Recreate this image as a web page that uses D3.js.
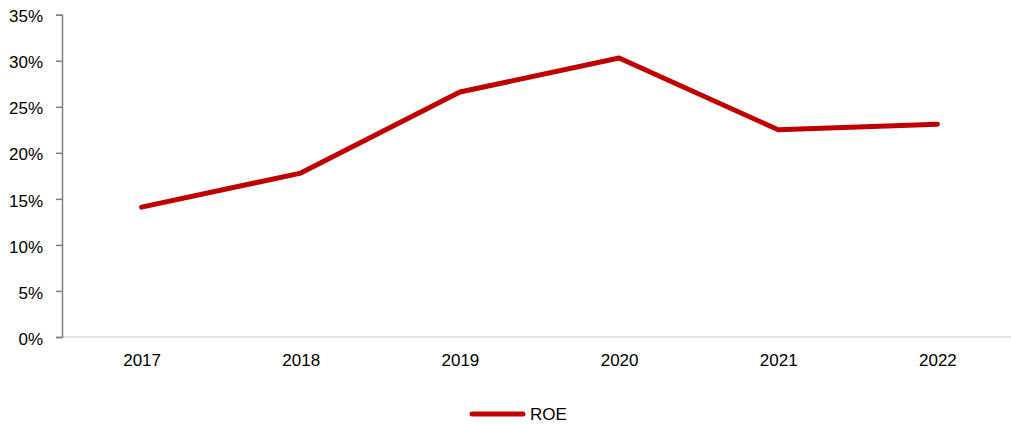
<!DOCTYPE html>
<html>
<head>
<meta charset="utf-8">
<script src="https://cdn.jsdelivr.net/npm/d3@7"></script>
<style>
  html, body { margin: 0; padding: 0; background: #fff; }
  svg { display: block; font-family: "Liberation Sans", Arial, sans-serif; }
</style>
</head>
<body>
<svg id="chart" width="1011" height="425"></svg>
<script>
// ROE by year
const years = ["2017", "2018", "2019", "2020", "2021", "2022"];
const roe = [14.1, 17.8, 26.6, 30.3, 22.5, 23.1];
const yTicks = [0, 5, 10, 15, 20, 25, 30, 35];
const seriesName = "ROE";

const svg = d3.select("#chart");
const W = 1011;
const plotLeft = 62, plotRight = 1017, plotTop = 14.7, plotBottom = 337;
const lineColor = "#C00000";
const fontSize = "17px";

const x = d3.scalePoint().domain(years).range([plotLeft, plotRight]).padding(0.5);
const y = d3.scaleLinear().domain([0, 35]).range([plotBottom, plotTop]);

// x axis baseline
svg.append("line")
  .attr("x1", plotLeft).attr("x2", W)
  .attr("y1", plotBottom).attr("y2", plotBottom)
  .attr("stroke", "#d9d9d9").attr("stroke-width", 1.5);

// y axis
const yAxis = d3.axisLeft(y).tickValues(yTicks).tickSize(6).tickPadding(13)
  .tickFormat(d => d + "%");
const gy = svg.append("g").attr("transform", `translate(${plotLeft},0)`).call(yAxis);
gy.select(".domain").attr("stroke", "#808080").attr("stroke-width", 1.5);
gy.selectAll(".tick line").attr("stroke", "#808080").attr("stroke-width", 1.5);
gy.selectAll(".tick text").attr("fill", "#000").attr("dy", "0.42em")
  .style("font-size", fontSize)
  .style("font-family", "'Liberation Sans', Arial, sans-serif");

// x labels
const xAxis = d3.axisBottom(x).tickSize(0).tickPadding(17);
const gx = svg.append("g").attr("transform", `translate(0,${plotBottom})`).call(xAxis);
gx.select(".domain").remove();
gx.selectAll(".tick text").attr("fill", "#000").style("font-size", fontSize)
  .style("font-family", "'Liberation Sans', Arial, sans-serif");

// series line
const line = d3.line().x((d, i) => x(years[i])).y(d => y(d));
svg.append("path")
  .datum(roe)
  .attr("d", line)
  .attr("fill", "none")
  .attr("stroke", lineColor)
  .attr("stroke-width", 5)
  .attr("stroke-linejoin", "round")
  .attr("stroke-linecap", "round");

// legend
const lg = svg.append("g").attr("transform", "translate(472,414)");
lg.append("line").attr("x1", 0).attr("x2", 51).attr("y1", 0).attr("y2", 0)
  .attr("stroke", lineColor).attr("stroke-width", 5).attr("stroke-linecap", "round");
lg.append("text").attr("x", 58).attr("y", 6).text(seriesName)
  .style("font-size", fontSize).attr("fill", "#000");
</script>
</body>
</html>
